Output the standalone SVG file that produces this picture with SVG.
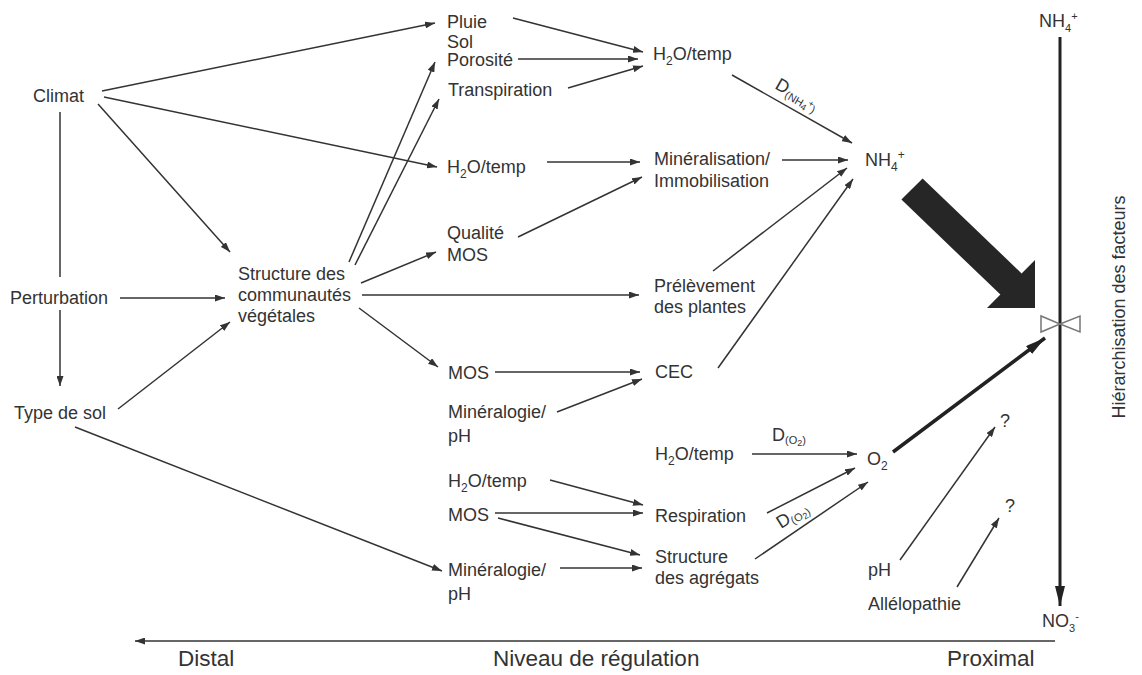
<svg xmlns="http://www.w3.org/2000/svg" width="1142" height="675" viewBox="0 0 1142 675">
<defs>
<style>
.t{font-family:"Liberation Sans",Arial,sans-serif;font-size:18px;fill:#333}
.s{font-size:12px}
.big{font-size:22.5px}
.c{stroke:#333;stroke-width:1.5;fill:none;marker-end:url(#a)}
.n{stroke:#333;stroke-width:1.5;fill:none}
</style>
<marker id="a" markerUnits="userSpaceOnUse" markerWidth="10" markerHeight="7" refX="10" refY="3.5" orient="auto"><path d="M0,0 L10,3.5 L0,7 z" fill="#333"/></marker>
<marker id="b" markerUnits="userSpaceOnUse" markerWidth="20" markerHeight="10" refX="20" refY="5" orient="auto"><path d="M0,0 L20,5 L0,10 z" fill="#222"/></marker>
</defs>
<rect width="1142" height="675" fill="#fff"/>

<g id="connectors">
<line class="c" x1="102" y1="91" x2="435" y2="23"/>
<line class="c" x1="104" y1="97" x2="437" y2="167"/>
<line class="c" x1="98" y1="104" x2="230" y2="252"/>
<line class="n" x1="60" y1="112" x2="60" y2="277"/>
<line class="c" x1="60" y1="310" x2="60" y2="386"/>
<line class="c" x1="120" y1="298" x2="225" y2="298"/>
<line class="c" x1="118" y1="409" x2="230" y2="322"/>
<line class="c" x1="75" y1="427" x2="442" y2="571"/>
<line class="c" x1="349" y1="262" x2="435" y2="62"/>
<line class="c" x1="355" y1="265" x2="439" y2="99"/>
<line class="c" x1="361" y1="283" x2="436" y2="252"/>
<line class="c" x1="362" y1="295" x2="639" y2="295"/>
<line class="c" x1="359" y1="308" x2="438" y2="367"/>
<line class="c" x1="513" y1="18" x2="643" y2="52"/>
<line class="c" x1="518" y1="59" x2="638" y2="59"/>
<line class="c" x1="568" y1="88" x2="643" y2="66"/>
<line class="c" x1="732" y1="75" x2="852" y2="143"/>
<line class="c" x1="782" y1="160" x2="848" y2="160"/>
<line class="c" x1="518" y1="237" x2="642" y2="177"/>
<line class="c" x1="547" y1="162" x2="640" y2="162"/>
<line class="c" x1="713" y1="271" x2="847" y2="168"/>
<line class="c" x1="718" y1="368" x2="853" y2="179"/>
<line class="c" x1="495" y1="372" x2="640" y2="372"/>
<line class="c" x1="557" y1="412" x2="642" y2="379"/>
<line class="c" x1="752" y1="454" x2="857" y2="454"/>
<line class="c" x1="550" y1="480" x2="643" y2="505"/>
<line class="c" x1="495" y1="513" x2="643" y2="513"/>
<line class="c" x1="498" y1="518" x2="640" y2="555"/>
<line class="c" x1="560" y1="568" x2="642" y2="568"/>
<line class="c" x1="767" y1="513" x2="855" y2="468"/>
<line class="c" x1="755" y1="559" x2="868" y2="482"/>
<line class="c" x1="900" y1="560" x2="995" y2="427"/>
<line class="c" x1="957" y1="587" x2="999" y2="518"/>
<line stroke="#222" stroke-width="3.5" x1="893" y1="452" x2="1045" y2="338" marker-end="url(#b)"/>
<line stroke="#222" stroke-width="3" x1="1060" y1="37" x2="1060" y2="606" marker-end="url(#b)"/>
<line class="c" x1="1055" y1="641" x2="135" y2="641"/>
<polygon points="922.6,178.4 1021.6,273.4 1035,260 1035,308 987,308 1000.4,294.6 901.4,199.6" fill="#262626"/>
<text class="t" transform="translate(774,88) rotate(30)" font-size="13">D<tspan font-size="11" dy="3">(NH</tspan><tspan font-size="9" dy="2">4</tspan><tspan font-size="9" dy="-7">+</tspan><tspan font-size="11" dy="5">)</tspan></text>
<text class="t" x="772" y="441" font-size="13">D<tspan font-size="11" dy="3">(O</tspan><tspan font-size="9" dy="2">2</tspan><tspan font-size="11" dy="-2">)</tspan></text>
<text class="t" transform="translate(781,529) rotate(-32)" font-size="13">D<tspan font-size="11" dy="3">(O</tspan><tspan font-size="9" dy="2">2</tspan><tspan font-size="11" dy="-2">)</tspan></text>
</g>

<g id="valve"><polygon points="1041,316 1041,332 1060,324" fill="none" stroke="#777" stroke-width="1.5"/><polygon points="1080,316 1080,332 1060,324" fill="none" stroke="#777" stroke-width="1.5"/></g>

<g id="climat"><text class="t" x="33" y="102">Climat</text></g>
<g id="perturbation"><text class="t" x="10" y="304">Perturbation</text></g>
<g id="type-sol"><text class="t" x="14" y="419">Type de sol</text></g>
<g id="structure-communautes"><text class="t" x="238" y="280">Structure des</text><text class="t" x="238" y="301">communautés</text><text class="t" x="238" y="322">végétales</text></g>
<g id="pluie-sol-porosite"><text class="t" x="447" y="28">Pluie</text><text class="t" x="447" y="48">Sol</text><text class="t" x="447" y="66">Porosité</text></g>
<g id="transpiration"><text class="t" x="448" y="96">Transpiration</text></g>
<g id="h2o-temp-1"><text class="t" x="653" y="60">H<tspan class="s" dy="5">2</tspan><tspan dy="-5">O/temp</tspan></text></g>
<g id="h2o-temp-2"><text class="t" x="447" y="173">H<tspan class="s" dy="5">2</tspan><tspan dy="-5">O/temp</tspan></text></g>
<g id="mineralisation"><text class="t" x="654" y="165">Minéralisation/</text><text class="t" x="654" y="187">Immobilisation</text></g>
<g id="qualite-mos"><text class="t" x="447" y="239">Qualité</text><text class="t" x="447" y="261">MOS</text></g>
<g id="prelevement"><text class="t" x="654" y="292">Prélèvement</text><text class="t" x="654" y="313">des plantes</text></g>
<g id="nh4"><text class="t" x="865" y="166">NH<tspan class="s" dy="5">4</tspan><tspan class="s" dy="-12">+</tspan></text></g>
<g id="mos-1"><text class="t" x="448" y="379">MOS</text></g>
<g id="cec"><text class="t" x="655" y="378">CEC</text></g>
<g id="mineralogie-1"><text class="t" x="448" y="418">Minéralogie/</text><text class="t" x="448" y="442">pH</text></g>
<g id="h2o-temp-3"><text class="t" x="655" y="460">H<tspan class="s" dy="5">2</tspan><tspan dy="-5">O/temp</tspan></text></g>
<g id="h2o-temp-4"><text class="t" x="448" y="487">H<tspan class="s" dy="5">2</tspan><tspan dy="-5">O/temp</tspan></text></g>
<g id="mos-2"><text class="t" x="448" y="521">MOS</text></g>
<g id="respiration"><text class="t" x="655" y="522">Respiration</text></g>
<g id="structure-agregats"><text class="t" x="655" y="563">Structure</text><text class="t" x="655" y="584">des agrégats</text></g>
<g id="mineralogie-2"><text class="t" x="448" y="576">Minéralogie/</text><text class="t" x="448" y="600">pH</text></g>
<g id="o2"><text class="t" x="867" y="465" font-size="17">O<tspan class="s" dy="5">2</tspan></text></g>
<g id="q1"><text class="t" x="1000" y="427" font-size="16">?</text></g>
<g id="q2"><text class="t" x="1005" y="512" font-size="16">?</text></g>
<g id="ph"><text class="t" x="868" y="576">pH</text></g>
<g id="allelopathie"><text class="t" x="868" y="610">Allélopathie</text></g>
<g id="nh4-top"><text class="t" x="1039" y="27" font-size="16">NH<tspan font-size="11" dy="5">4</tspan><tspan font-size="11" dy="-12">+</tspan></text></g>
<g id="no3"><text class="t" x="1042" y="627" font-size="16">NO<tspan font-size="11" dy="5">3</tspan><tspan font-size="11" dy="-12">-</tspan></text></g>
<g id="axis-labels"><text class="t big" x="178" y="666">Distal</text><text class="t big" x="493" y="666">Niveau de régulation</text><text class="t big" x="947" y="666">Proximal</text></g>
<g id="hierarchisation"><text class="t" transform="translate(1125,307) rotate(-90)" text-anchor="middle" font-size="17.5">Hiérarchisation des facteurs</text></g>
</svg>
